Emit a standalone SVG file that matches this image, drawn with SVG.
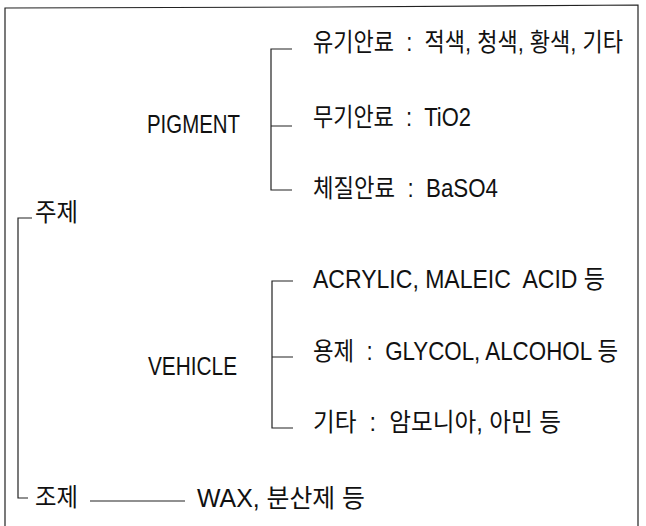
<svg xmlns="http://www.w3.org/2000/svg" width="646" height="526" viewBox="0 0 646 526">
<style>
.t{font-family:"Liberation Sans","Noto Sans CJK KR",sans-serif;font-size:25px;fill:#111;white-space:pre}
.l{stroke:#222;stroke-width:1.2;fill:none}
</style>
<rect width="646" height="526" fill="#fff"/>
<g id="frame">
<path class="l" d="M5,526 L5,8 L330,7 L638,5 L638,526"/>
</g>
<g id="connectors">
<path class="l" d="M32,218 L18,218 L18,498 L28,498"/>
<path class="l" d="M292,49 L271,49 L271,190 L292,190 M271,126 L292,126"/>
<path class="l" d="M293,281 L272,281 L272,428 L293,428 M272,357 L293,357"/>
<path class="l" d="M90,501 L185,501"/>
</g>
<g id="n-juje"><text class="t" x="35" y="221" textLength="43" lengthAdjust="spacingAndGlyphs">주제</text></g>
<g id="n-joje"><text class="t" x="35" y="506" textLength="43" lengthAdjust="spacingAndGlyphs">조제</text></g>
<g id="n-wax"><text class="t" x="197" y="507" textLength="168" lengthAdjust="spacingAndGlyphs">WAX, 분산제 등</text></g>
<g id="n-pigment"><text class="t" x="147" y="133" textLength="93" lengthAdjust="spacingAndGlyphs">PIGMENT</text></g>
<g id="n-vehicle"><text class="t" x="148" y="375" textLength="89" lengthAdjust="spacingAndGlyphs">VEHICLE</text></g>
<g id="n-organic"><text class="t" x="313" y="51" textLength="310" lengthAdjust="spacingAndGlyphs">유기안료  :  적색, 청색, 황색, 기타</text></g>
<g id="n-inorganic"><text class="t" x="313" y="126" textLength="158" lengthAdjust="spacingAndGlyphs">무기안료  :  TiO2</text></g>
<g id="n-extender"><text class="t" x="313" y="197" textLength="185" lengthAdjust="spacingAndGlyphs">체질안료  :  BaSO4</text></g>
<g id="n-acrylic"><text class="t" x="313" y="288" textLength="292" lengthAdjust="spacingAndGlyphs">ACRYLIC, MALEIC  ACID 등</text></g>
<g id="n-solvent"><text class="t" x="313" y="360" textLength="305" lengthAdjust="spacingAndGlyphs">용제  :  GLYCOL, ALCOHOL 등</text></g>
<g id="n-other"><text class="t" x="313" y="431" textLength="248" lengthAdjust="spacingAndGlyphs">기타  :  암모니아, 아민 등</text></g>
</svg>
